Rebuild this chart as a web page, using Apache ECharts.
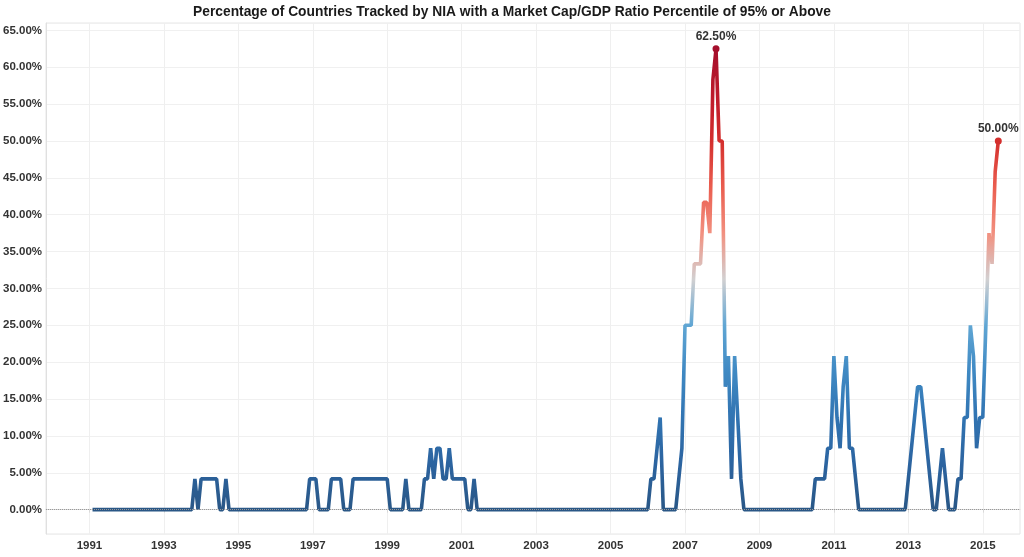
<!DOCTYPE html>
<html>
<head>
<meta charset="utf-8">
<script src="https://cdn.jsdelivr.net/npm/echarts@6/dist/echarts.min.js"></script>
<style>html,body{margin:0;padding:0;background:#fff}#c{width:1024px;height:557px}</style>
</head>
<body>
<div id="c"></div>
<script>
// ---------- text ----------
const titleText = 'Percentage of Countries Tracked by NIA with a Market Cap/GDP Ratio Percentile of 95% or Above';

// ---------- x axis: month-start categories ----------
const axisFirstMonth = [1989, 11];
const axisLastMonth = [2016, 1];
// values are month-end readings; a January value sits at the start of February
const firstValueCategory = '1991-02';
const yearTicks = ['1991','1993','1995','1997','1999','2001','2003','2005','2007','2009','2011','2013','2015'];

// ---------- y axis ----------
const yMin = -3.3;
const yMax = 66;
const yTicks = [0,5,10,15,20,25,30,35,40,45,50,55,60,65];

// ---------- series values (% of countries), Jan..Dec month-ends ----------
const v1991 = [0,0,0,0,0,0,0,0,0,0,0,0];
const v1992 = [0,0,0,0,0,0,0,0,0,0,0,0];
const v1993 = [0,0,0,0,0,0,0,0,0,4.17,0,4.17];
const v1994 = [4.17,4.17,4.17,4.17,4.17,0,0,4.17,0,0,0,0];
const v1995 = [0,0,0,0,0,0,0,0,0,0,0,0];
const v1996 = [0,0,0,0,0,0,0,0,0,0,4.17,4.17];
const v1997 = [4.17,0,0,0,0,4.17,4.17,4.17,4.17,0,0,0];
const v1998 = [4.17,4.17,4.17,4.17,4.17,4.17,4.17,4.17,4.17,4.17,4.17,4.17];
const v1999 = [0,0,0,0,0,4.17,0,0,0,0,0,4.17];
const v2000 = [4.17,8.33,4.17,8.33,8.33,4.17,4.17,8.33,4.17,4.17,4.17,4.17];
const v2001 = [4.17,0,0,4.17,0,0,0,0,0,0,0,0];
const v2002 = [0,0,0,0,0,0,0,0,0,0,0,0];
const v2003 = [0,0,0,0,0,0,0,0,0,0,0,0];
const v2004 = [0,0,0,0,0,0,0,0,0,0,0,0];
const v2005 = [0,0,0,0,0,0,0,0,0,0,0,0];
const v2006 = [4.17,4.17,8.33,12.5,0,0,0,0,0,4.17,8.33,25];
const v2007 = [25,25,33.33,33.33,33.33,41.67,41.67,37.5,58.33,62.5,50,50];
const v2008 = [16.67,20.83,4.17,20.83,12.5,4.17,0,0,0,0,0,0];
const v2009 = [0,0,0,0,0,0,0,0,0,0,0,0];
const v2010 = [0,0,0,0,0,4.17,4.17,4.17,4.17,8.33,8.33,20.83];
const v2011 = [12.5,8.33,16.67,20.83,8.33,8.33,4.17,0,0,0,0,0];
const v2012 = [0,0,0,0,0,0,0,0,0,0,0,4.17];
const v2013 = [8.33,12.5,16.67,16.67,12.5,8.33,4.17,0,0,4.17,8.33,4.17];
const v2014 = [0,0,0,4.17,4.17,12.5,12.5,25,20.83,8.33,12.5,12.5];
const v2015 = [25,37.5,33.33,45.83,50];

const values = [].concat(v1991,v1992,v1993,v1994,v1995,v1996,v1997,v1998,v1999,v2000,
  v2001,v2002,v2003,v2004,v2005,v2006,v2007,v2008,v2009,v2010,v2011,v2012,v2013,v2014,v2015);

// ---------- colours ----------
const lineColors = ['#2a5786','#2c64a0','#3174b2','#3f89c3','#60a6d4','#d2d0d1',
                    '#f2907f','#ea5d4f','#d42f2d','#bd1a2b','#a50f2c'];

// build categories
const categories = [];
{
  let y = axisFirstMonth[0], m = axisFirstMonth[1];
  while (y < axisLastMonth[0] || (y === axisLastMonth[0] && m <= axisLastMonth[1])) {
    categories.push(y + '-' + String(m).padStart(2, '0'));
    m++; if (m > 12) { m = 1; y++; }
  }
}
const offset = categories.indexOf(firstValueCategory);
const maxVal = Math.max.apply(null, values);
const peakIdx = values.indexOf(maxVal);
const lastIdx = values.length - 1;

const seriesData = categories.map(function (c, i) {
  const k = i - offset;
  if (k < 0 || k >= values.length) return '-';
  const v = values[k];
  if (k === peakIdx || k === lastIdx) {
    return {
      value: v,
      symbol: 'circle',
      symbolSize: 7,
      label: {
        show: true, position: 'top', distance: 3,
        formatter: v.toFixed(2) + '%',
        fontFamily: 'Liberation Sans, Arial, sans-serif',
        fontWeight: 'bold', fontSize: 12, color: '#333'
      }
    };
  }
  return v;
});

function isYearTick(value) {
  return value.slice(5) === '01' && yearTicks.indexOf(value.slice(0, 4)) >= 0;
}

const chart = echarts.init(document.getElementById('c'), null, {renderer: 'canvas'});
chart.setOption({
  animation: false,
  backgroundColor: '#ffffff',
  title: {
    text: titleText,
    left: 'center',
    top: 0,
    textStyle: {
      fontFamily: 'Liberation Sans, Arial, sans-serif',
      fontWeight: 'bold', fontSize: 13.8, color: '#1a1a1a'
    }
  },
  grid: {
    left: 45, right: 4, top: 23, bottom: 23,
    show: true, borderColor: '#e6e6e6', borderWidth: 1
  },
  xAxis: {
    type: 'category',
    data: categories,
    boundaryGap: false,
    axisLine: {show: true, lineStyle: {color: '#d9d9d9'}},
    axisTick: {show: true, length: 3, interval: function (i, v) { return isYearTick(v); }, lineStyle: {color: '#d9d9d9'}},
    axisLabel: {
      interval: function (i, v) { return isYearTick(v); },
      formatter: function (v) { return v.slice(0, 4); },
      margin: 6,
      fontFamily: 'Liberation Sans, Arial, sans-serif',
      fontWeight: 'bold', fontSize: 11.5, color: '#333'
    },
    splitLine: {show: true, interval: function (i, v) { return isYearTick(v); }, lineStyle: {color: '#efefef'}}
  },
  yAxis: {
    type: 'value',
    min: yMin, max: yMax,
    minInterval: 5, maxInterval: 5, splitNumber: 13,
    axisLine: {show: true, lineStyle: {color: '#e0e0e0'}},
    axisTick: {show: false},
    axisLabel: {
      margin: 4,
      formatter: function (v) {
        for (let i = 0; i < yTicks.length; i++) {
          if (Math.abs(v - yTicks[i]) < 1e-6) return yTicks[i].toFixed(2) + '%';
        }
        return '';
      },
      fontFamily: 'Liberation Sans, Arial, sans-serif',
      fontWeight: 'bold', fontSize: 11.5, color: '#333'
    },
    splitLine: {show: true, lineStyle: {color: '#f0f0f0'}}
  },
  visualMap: {
    show: false,
    type: 'continuous',
    seriesIndex: 0,
    dimension: 1,
    min: 0,
    max: maxVal,
    inRange: {color: lineColors}
  },
  series: [
    {
      type: 'line',
      data: seriesData,
      symbol: 'circle',
      symbolSize: 0,
      showSymbol: true,
      showAllSymbol: true,
      connectNulls: false,
      z: 3,
      lineStyle: {width: 3.6},
      label: {show: false},
      emphasis: {disabled: true}
    },
    {
      type: 'line',
      data: [],
      z: 1,
      silent: true,
      markLine: {
        silent: true,
        symbol: ['none', 'none'],
        label: {show: false},
        lineStyle: {type: 'dotted', color: '#9a9a9a', width: 1},
        data: [{yAxis: yTicks[0]}]
      }
    }
  ]
});
</script>
</body>
</html>
